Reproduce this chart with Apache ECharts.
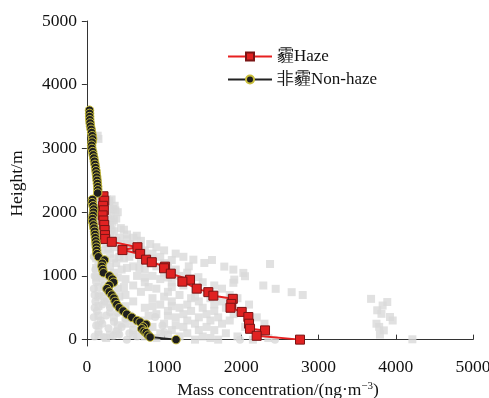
<!DOCTYPE html>
<html><head><meta charset="utf-8">
<script src="https://cdn.jsdelivr.net/npm/echarts@6/dist/echarts.min.js"></script>
<style>html,body{margin:0;padding:0;background:#fff}#c{width:489px;height:398px}</style>
</head><body><div id="c"></div>
<script>
// Haze mean profile [concentration, height]
const hazeData = [[215,2250],[225,2180],[210,2100],[220,2030],[205,1950],[215,1870],[225,1800],[230,1720],[235,1640],[237,1580],[323,1535],[655,1450],[461,1405],[690,1345],[767,1255],[841,1215],[1013,1145],[1000,1120],[1087,1035],[1336,940],[1237,910],[1423,800],[1573,745],[1638,690],[1890,640],[1870,560],[1860,500],[2005,435],[2091,355],[2100,250],[2113,170],[2307,145],[2199,60],[2760,0]];
// Non-haze mean profile [concentration, height]
const nonHazeData = [[34,3600],[35,3550],[36,3500],[38,3450],[42,3400],[47,3350],[55,3300],[62,3250],[70,3200],[75,3150],[68,3100],[62,3050],[65,3000],[75,2950],[82,2900],[90,2850],[98,2800],[105,2750],[112,2700],[118,2650],[123,2600],[128,2550],[132,2500],[136,2450],[140,2400],[142,2350],[140,2300],[73,2200],[70,2150],[80,2100],[88,2050],[86,2000],[80,1950],[73,1900],[75,1850],[85,1800],[92,1750],[100,1700],[105,1650],[110,1600],[115,1550],[120,1500],[123,1450],[127,1400],[130,1350],[150,1300],[228,1250],[200,1200],[194,1150],[205,1100],[215,1050],[293,1000],[330,950],[345,900],[290,850],[259,800],[290,750],[323,700],[350,650],[366,600],[388,550],[420,500],[470,450],[517,400],[582,350],[650,300],[690,275],[767,240],[730,200],[711,170],[740,130],[767,110],[790,70],[819,40],[1155,0]];
// Individual haze profiles (gray squares)
const graySquares = [[140,3200],[150,3150],[150,2250],[230,2250],[120,2200],[260,2200],[320,2200],[180,2150],[280,2150],[140,2100],[240,2100],[360,2100],[200,2050],[340,2050],[300,2050],[160,2000],[260,2000],[400,2000],[130,1950],[310,1950],[220,1950],[190,1900],[380,1900],[280,1900],[150,1850],[250,1850],[330,1850],[210,1800],[300,1800],[170,1750],[270,1750],[440,1750],[140,1700],[350,1700],[230,1700],[300,1650],[520,1650],[200,1650],[647,1630],[260,1600],[420,1600],[600,1600],[180,1550],[380,1550],[700,1550],[450,1500],[250,1500],[820,1500],[560,1500],[350,1450],[900,1450],[600,1450],[200,1400],[500,1400],[750,1400],[1000,1400],[300,1350],[650,1350],[850,1350],[1150,1350],[420,1300],[550,1300],[950,1300],[1250,1300],[250,1250],[700,1250],[1100,1250],[1379,1255],[1620,1250],[2372,1187],[380,1200],[820,1200],[1000,1200],[1521,1203],[300,1150],[600,1150],[900,1150],[1320,1150],[1780,1146],[450,1100],[750,1100],[1150,1100],[1897,1099],[350,1050],[1000,1050],[1300,1050],[2026,1047],[250,1000],[650,1000],[850,1000],[1200,1000],[2048,995],[1444,980],[500,950],[950,950],[1350,950],[1909,942],[300,900],[750,900],[1100,900],[1500,900],[1897,891],[600,850],[1250,850],[1650,850],[2285,849],[400,800],[900,800],[1400,800],[1750,800],[2445,797],[250,750],[700,750],[1050,750],[1550,750],[2652,745],[500,700],[1200,700],[1850,700],[2795,700],[350,650],[850,650],[1350,650],[1600,650],[1950,650],[3680,640],[600,600],[1100,600],[1450,600],[1750,600],[3890,590],[300,550],[950,550],[1300,550],[1650,550],[2100,550],[3830,535],[750,500],[1200,500],[1500,500],[1800,500],[450,450],[1050,450],[1350,450],[1650,450],[2000,450],[3760,460],[900,400],[1250,400],[1550,400],[1900,400],[3815,405],[350,350],[1150,350],[1450,350],[1700,350],[2200,350],[3925,355],[700,300],[1300,300],[1600,300],[1850,300],[3960,300],[500,250],[1000,250],[1400,250],[1750,250],[2300,250],[3750,250],[850,200],[1250,200],[1550,200],[2050,200],[3785,200],[600,150],[1100,150],[1450,150],[1650,150],[3845,145],[400,100],[950,100],[1300,100],[1800,100],[2250,100],[750,50],[1200,50],[1500,50],[1950,50],[3795,80],[1400,0],[1700,0],[2150,0],[4215,5],
[110,2175],[200,2175],[290,2175],[120,2025],[230,2025],[370,2025],[110,1875],[220,1875],[350,1875],[120,1725],[200,1725],[320,1725],[480,1725],[120,1575],[230,1575],[330,1575],[520,1575],[120,1425],[280,1425],[450,1425],[700,1425],[120,1275],[350,1275],[480,1275],[850,1275],[120,1125],[220,1125],[520,1125],[680,1125],[1050,1125],[120,975],[400,975],[750,975],[1050,975],[150,825],[480,825],[800,825],[1100,825],[150,675],[420,675],[1000,675],[1400,675],[150,525],[500,525],[850,525],[1100,525],[150,375],[550,375],[800,375],[1050,375],[150,225],[400,225],[750,225],[1150,225],[150,75],[300,75],[600,75],[1050,75],[250,25],[900,25],[1600,25],[2350,25]];
// Individual non-haze profiles (gray circles)
const grayCircles = [[100,1500],[130,1400],[90,1300],[150,1200],[110,1100],[180,1000],[120,900],[220,850],[90,800],[160,700],[250,650],[110,600],[200,550],[300,500],[130,450],[400,420],[250,380],[90,350],[500,330],[180,300],[350,280],[600,250],[120,220],[450,200],[280,180],[700,150],[150,120],[550,100],[342,60],[220,40],[517,0],[884,355],[978,223],[650,50],[800,90],[1983,0],[2436,0],[1000,120],[420,80],[100,1000],[200,950],[100,700],[230,600],[100,500],[300,430],[200,250],[380,130],[100,50]];
const xTicks = [0,1000,2000,3000,4000,5000];
const yTicks = [0,1000,2000,3000,4000,5000];

const chart = echarts.init(document.getElementById('c'));
const serif = '"Liberation Serif","Times New Roman",serif';
chart.setOption({
  animation:false,
  grid:{left:83,right:16,top:21,bottom:52,outerBoundsMode:'none',containLabel:false},
  legend:{
    data:['霾Haze','非霾Non-haze'],
    orient:'vertical', left:222, top:43, itemWidth:44, itemHeight:10, itemGap:6,
    textStyle:{fontFamily:serif, fontSize:17, color:'#111'}
  },
  xAxis:{
    type:'value', min:-50, max:5000,
    name:'{a|Mass concentration/(ng·m}{s|−3}{a|)}', nameLocation:'middle', nameGap:35,
    nameTextStyle:{rich:{a:{fontFamily:serif,fontSize:17.5,color:'#111'},s:{fontFamily:serif,fontSize:11,color:'#111',verticalAlign:'top',padding:[0,0,6,0]}}},
    axisLine:{lineStyle:{color:'#333',width:1}},
    axisTick:{show:true, inside:true, length:5, customValues:xTicks, lineStyle:{color:'#333'}},
    axisLabel:{customValues:xTicks, formatter:v=>String(v), fontFamily:serif, fontSize:17.5, color:'#111', margin:12},
    splitLine:{show:false}
  },
  yAxis:{
    type:'value', min:-100, max:5000,
    name:'Height/m', nameLocation:'middle', nameGap:57, nameRotate:90,
    nameTextStyle:{fontFamily:serif, fontSize:17.5, color:'#111'},
    axisLine:{show:true, lineStyle:{color:'#333',width:1}},
    axisTick:{show:true, inside:false, length:5, customValues:yTicks, lineStyle:{color:'#333'}},
    axisLabel:{customValues:yTicks, formatter:v=>String(v), fontFamily:serif, fontSize:17.5, color:'#111', margin:6},
    splitLine:{show:false}
  },
  series:[
    {name:'gs', type:'scatter', data:graySquares, symbol:'rect', symbolSize:8, itemStyle:{color:'#dadada'}, silent:true, z:1},
    {name:'gc', type:'scatter', data:grayCircles, symbol:'circle', symbolSize:8, itemStyle:{color:'#dadada'}, silent:true, z:1},
    {name:'霾Haze', type:'line', data:hazeData, symbol:'rect', symbolSize:9, showAllSymbol:true,
      lineStyle:{color:'#e82020', width:2}, itemStyle:{color:'#e02222', borderColor:'#7a1515', borderWidth:1}, z:3},
    {name:'非霾Non-haze', type:'line', data:nonHazeData, symbol:'circle', symbolSize:8.5, showAllSymbol:true,
      lineStyle:{color:'#222', width:2}, itemStyle:{color:'#1e1e1e', borderColor:'#c9be3a', borderWidth:1}, z:4}
  ]
});
</script></body></html>
